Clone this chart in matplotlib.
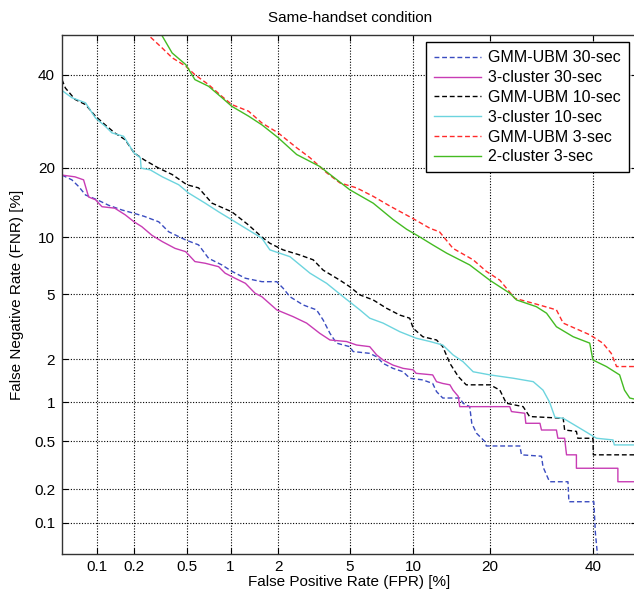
import math
import numpy as np
from matplotlib import pyplot as plot
from matplotlib.ticker import FixedLocator, FixedFormatter

# Curves, values in percent
fpr_gmm30 = [0.05, 0.061, 0.07, 0.08, 0.1, 0.125, 0.16, 0.2, 0.24, 0.31, 0.368, 0.49, 0.605, 0.71,
             0.876, 1.02, 1.25, 1.59, 1.96, 2.14, 2.35, 2.8, 3.33, 3.62, 3.94, 4.27, 5.0, 5.21, 6.3,
             6.8, 7.3, 8.12, 9.03, 9.66, 11.0, 12.1, 12.55, 13.3, 15.5, 15.95, 16.9, 17.2, 17.9,
             19.2, 19.4, 25.1, 25.4, 29.2, 29.5, 30.8, 34.6, 34.8, 40.2, 40.55, 41.1]
fnr_gmm30 = [18.7, 17.9, 16.8, 15.5, 14.8, 14.0, 13.35, 12.9, 12.5, 11.8, 10.6, 9.68, 9.16, 7.84,
             7.24, 6.7, 6.15, 5.89, 5.89, 5.42, 4.85, 4.35, 4.07, 3.54, 2.93, 2.54, 2.41, 2.24, 2.18,
             2.07, 1.87, 1.73, 1.64, 1.48, 1.44, 1.36, 1.19, 1.07, 1.07, 0.98, 0.925, 0.693, 0.58,
             0.498, 0.46, 0.46, 0.39, 0.38, 0.31, 0.232, 0.232, 0.155, 0.155, 0.08, 0.045]

fpr_cl30 = [0.05, 0.065, 0.077, 0.085, 0.097, 0.11, 0.14, 0.17, 0.2, 0.23, 0.275, 0.33, 0.41, 0.49,
            0.57, 0.673, 0.832, 0.92, 1.07, 1.25, 1.44, 1.59, 1.96, 2.45, 2.93, 3.47, 3.94, 4.82,
            5.42, 6.3, 6.8, 7.3, 8.12, 9.03, 10.0, 10.3, 12.1, 12.55, 13.3, 14.2, 14.6, 15.3, 15.5,
            23.3, 23.6, 26.0, 26.2, 28.9, 29.2, 32.2, 32.5, 33.9, 34.3, 36.4, 36.4, 45.6, 45.6, 50]
fnr_cl30 = [18.7, 18.4, 17.9, 15.2, 14.8, 13.8, 13.6, 12.7, 11.8, 11.2, 10.2, 9.5, 8.8, 8.47,
            7.54, 7.39, 7.09, 6.55, 6.15, 5.77, 5.08, 4.85, 4.07, 3.71, 3.39, 2.93, 2.66, 2.6,
            2.47, 2.41, 2.13, 1.97, 1.82, 1.73, 1.69, 1.6, 1.56, 1.4, 1.36, 1.33, 1.22, 1.1, 0.925,
            0.925, 0.85, 0.826, 0.693, 0.693, 0.615, 0.615, 0.53, 0.53, 0.39, 0.39, 0.302, 0.302,
            0.232, 0.232]

fpr_gmm10 = [0.05, 0.0535, 0.065, 0.08, 0.097, 0.117, 0.14, 0.17, 0.2, 0.24, 0.31, 0.39, 0.5,
             0.605, 0.75, 1.02, 1.31, 1.59, 1.78, 2.14, 2.68, 3.19, 3.62, 4.45, 5.0, 5.63, 6.55,
             7.58, 8.72, 9.66, 10.0, 11.0, 12.55, 13.3, 14.2, 15.3, 16.4, 20.0, 21.6, 22.7, 25.7,
             26.9, 33.6, 33.9, 36.4, 36.7, 40.0, 40.1, 50]
fnr_gmm10 = [38.8, 36.8, 34.1, 32.9, 30.3, 28.4, 26.7, 25.3, 22.7, 21.4, 19.9, 18.8, 17.1,
             16.6, 14.3, 13.1, 11.4, 10.0, 9.33, 8.65, 8.15, 7.7, 6.8, 6.0, 5.53, 4.97, 4.65,
             4.16, 3.79, 3.63, 3.15, 2.79, 2.66, 2.41, 1.87, 1.52, 1.33, 1.33, 1.22, 0.98, 0.925,
             0.78, 0.757, 0.615, 0.6, 0.53, 0.53, 0.39, 0.39]

fpr_cl10 = [0.05, 0.061, 0.08, 0.097, 0.117, 0.133, 0.165, 0.2, 0.224, 0.227, 0.267, 0.33, 0.436,
            0.514, 0.673, 0.832, 1.02, 1.31, 1.59, 1.78, 2.35, 3.06, 3.78, 4.63, 5.63, 6.3, 7.3,
            8.72, 10.3, 11.8, 13.3, 14.6, 15.95, 17.4, 20.0, 23.9, 27.6, 29.5, 30.8, 31.9, 33.6,
            37.8, 40.8, 44.5, 44.8, 50]
fnr_cl10 = [36.2, 34.5, 33.3, 29.9, 28.1, 26.7, 26.0, 22.7, 21.8, 19.9, 19.6, 18.4, 17.1,
            15.8, 14.3, 13.1, 12.05, 10.8, 9.87, 8.65, 7.99, 6.55, 5.77, 4.85, 4.07, 3.63, 3.39,
            3.0, 2.73, 2.6, 2.47, 2.13, 1.92, 1.64, 1.56, 1.48, 1.4, 1.22, 1.0, 0.77, 0.757,
            0.615, 0.53, 0.514, 0.469, 0.469]

fpr_gmm3 = [0.22, 0.33, 0.39, 0.49, 0.57, 0.71, 0.876, 1.02, 1.31, 1.59, 2.0, 2.57, 3.06, 3.78,
            4.45, 5.42, 6.55, 7.85, 10.0, 11.8, 12.9, 14.6, 17.4, 19.4, 21.6, 24.2, 27.6, 32.2,
            33.6, 39.3, 42.2, 44.1, 45.3, 50]
fnr_gmm3 = [52, 46.6, 44.2, 42.1, 40, 37.6, 34.8, 32.9, 31.4, 28.8, 26.7, 23.7, 21.8, 19.1,
            17.4, 16.6, 15.3, 13.9, 12.2, 11.0, 10.6, 8.8, 7.7, 6.7, 6.0, 4.75, 4.45, 4.07,
            3.39, 2.87, 2.54, 2.18, 1.78, 1.78]

fpr_cl3 = [0.3, 0.39, 0.49, 0.57, 0.71, 0.876, 1.02, 1.31, 1.59, 2.0, 2.57, 3.47, 5.01, 6.55,
           8.12, 9.35, 10.7, 12.1, 13.8, 16.9, 19.95, 23.3, 24.5, 28.2, 30.2, 32.2, 35.7, 39.3,
           40.0, 43.0, 46.0, 47.1, 48.3, 50]
fnr_cl3 = [52, 45.4, 42.5, 38.8, 37.2, 34.5, 32.5, 30.3, 28.4, 25.7, 22.4, 20.2, 16.3, 14.3,
           12.1, 10.9, 10.0, 9.16, 8.32, 7.24, 6.0, 5.08, 4.65, 4.25, 3.89, 3.22, 2.79, 2.54,
           1.97, 1.78, 1.56, 1.22, 1.07, 1.04]

tick_vals = [0.1, 0.2, 0.5, 1, 2, 5, 10, 20, 40]
tick_labels = ['0.1', '0.2', '0.5', '1', '2', '5', '10', '20', '40']

series = [
    (fpr_gmm30, fnr_gmm30, 'GMM-UBM 30-sec', '#3a4cc0', '--'),
    (fpr_cl30, fnr_cl30, '3-cluster 30-sec', '#c83cb4', '-'),
    (fpr_gmm10, fnr_gmm10, 'GMM-UBM 10-sec', '#000000', '--'),
    (fpr_cl10, fnr_cl10, '3-cluster 10-sec', '#6cd4de', '-'),
    (fpr_gmm3, fnr_gmm3, 'GMM-UBM 3-sec', '#ff2a2a', '--'),
    (fpr_cl3, fnr_cl3, '2-cluster 3-sec', '#44bb22', '-'),
]

_erf = np.vectorize(math.erf, otypes=[float])


def norm_cdf(z):
    return 0.5 * (1.0 + _erf(np.asarray(z, dtype=float) / math.sqrt(2.0)))


def probit_pct(v):
    # normal deviate of a percentage, by bisection
    q = np.clip(np.asarray(v, dtype=float) / 100.0, 1e-9, 1 - 1e-9)
    lo = np.full(q.shape, -8.0)
    hi = np.full(q.shape, 8.0)
    for _ in range(50):
        mid = 0.5 * (lo + hi)
        below = norm_cdf(mid) < q
        lo = np.where(below, mid, lo)
        hi = np.where(below, hi, mid)
    return 0.5 * (lo + hi)


def inv_probit_pct(z):
    return 100.0 * norm_cdf(z)


plot.rcParams['font.family'] = ['Liberation Sans', 'DejaVu Sans']
plot.rcParams['font.size'] = 11

fig = plot.figure(figsize=(6.34, 5.93), dpi=100)
ax = fig.add_axes([62 / 634, (593 - 554.3) / 593, 575.2 / 634, 519.6 / 593])
ax.set_xscale('function', functions=(probit_pct, inv_probit_pct))
ax.set_yscale('function', functions=(probit_pct, inv_probit_pct))

for fpr, fnr, name, col, ls in series:
    if ls == '--':
        ax.plot(fpr, fnr, color=col, lw=1.0, ls=ls, dashes=(3.5, 2), label=name)
    else:
        ax.plot(fpr, fnr, color=col, lw=1.0, ls=ls, label=name)

ax.set_xlim(0.05, 50)
ax.set_ylim(0.05, 50)
for axis in (ax.xaxis, ax.yaxis):
    axis.set_major_locator(FixedLocator(tick_vals))
    axis.set_major_formatter(FixedFormatter(tick_labels))
    axis.set_minor_locator(FixedLocator([]))
ax.tick_params(direction='in', length=4, top=True, right=True, labelsize=11)
ax.tick_params(axis='x', pad=4)
ax.tick_params(axis='y', pad=5)
ax.grid(True, color='k', linestyle=(0, (1, 1.5)), linewidth=0.8)
for s in ax.spines.values():
    s.set_linewidth(1.0)
    s.set_color('#333333')

ax.set_xlabel('False Positive Rate (FPR) [%]', fontsize=11, labelpad=1)
ax.set_ylabel('False Negative Rate (FNR) [%]', fontsize=11, labelpad=7)
ax.set_title('Same-handset condition', fontsize=11, pad=9)

leg = ax.legend(loc='upper right', bbox_to_anchor=(0.985, 0.985), fancybox=False,
                edgecolor='black', framealpha=1, handlelength=2.9, handletextpad=0.45,
                borderpad=0.5, labelspacing=0.3, fontsize=11.5, borderaxespad=0)
leg.get_frame().set_linewidth(1.0)

plot.savefig('out.png', dpi=100)
